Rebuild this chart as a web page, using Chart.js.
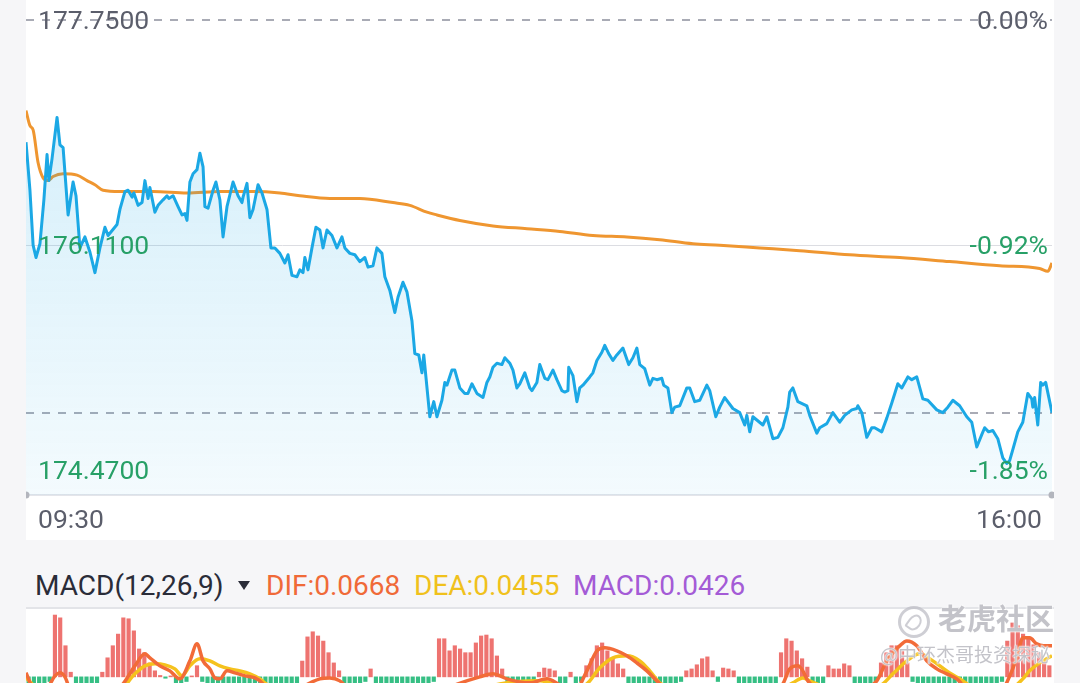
<!DOCTYPE html>
<html lang="zh-CN">
<head>
<meta charset="UTF-8">
<title>分时 / MACD</title>
<script src="https://cdn.jsdelivr.net/npm/chart.js"></script>
<style>
  html, body { margin: 0; padding: 0; width: 1080px; height: 683px; overflow: hidden; background: #f6f6f8; font-family: Roboto, "Noto Sans", sans-serif; }
  #price { position: absolute; left: 26px; top: 0; background: #fff; }
  #macd { position: absolute; left: 26px; top: 609px; background: #fff; }
  #sep { position: absolute; left: 26px; top: 607px; width: 1028px; height: 2px; background: #e3e4e8; }
  .head { position: absolute; top: 568px; height: 36px; line-height: 36px; font-size: 28px; white-space: nowrap; }
  #tri { position: absolute; left: 238px; top: 581px; width: 0; height: 0; border-left: 6px solid transparent; border-right: 6px solid transparent; border-top: 9px solid #2a2c38; }
  .wm { position: absolute; white-space: nowrap; font-family: "Noto Sans CJK SC", sans-serif; color: rgba(180,180,188,0.8);
        text-shadow: 0 0 2px #fff, 0 0 2px #fff, 0 0 1px #fff; }
  #logo { position: absolute; left: 898px; top: 606px; width: 26px; height: 26px; border: 3px solid rgba(190,190,198,0.75); border-radius: 50%; }
  #logo div { position: absolute; left: 7px; top: 5px; width: 9px; height: 13px; border: 2px solid rgba(190,190,198,0.75); border-radius: 50% 50% 50% 10%; transform: rotate(35deg); }
</style>
</head>
<body>
<canvas id="price" width="1028" height="540"></canvas>
<div class="head" id="hTitle" style="left:35px;color:#2a2c38"></div>
<div id="tri"></div>
<div class="head" id="hDif" style="left:266px;color:#f06a38"></div>
<div class="head" id="hDea" style="left:414px;color:#f0c11c"></div>
<div class="head" id="hMacd" style="left:573px;color:#a45bd6"></div>
<div id="sep"></div>
<canvas id="macd" width="1028" height="132"></canvas>
<div id="logo"><div></div></div>
<div class="wm" style="left:938px;top:596px;font-size:29px;font-weight:bold">老虎社区</div>
<div class="wm" style="left:880px;top:640px;font-size:19px">@中环杰哥投资探秘</div>
<script>
// minutes after 09:30, last price
const priceMin = [0,1.5,2.7,3.8,5.3,6.8,8.0,8.7,9.9,11.8,12.9,14.1,16.0,17.9,19.0,20.5,22.4,24.3,26.2,28.1,
  30.0,31.2,34.6,35.7,37.6,38.8,40.3,41.0,42.6,44.1,45.2,46.4,47.1,49.0,50.2,52.1,53.6,54.3,55.9,57.8,
  59.3,60.4,61.2,62.3,63.5,65.0,66.1,67.3,68.0,69.2,71.1,72.2,73.7,74.9,76.4,78.7,80.6,82.1,82.5,84.0,
  85.1,86.3,88.2,89.7,91.6,93.1,94.6,96.5,98.4,99.6,101.1,103.0,104.1,105.3,106.0,107.2,108.7,110.2,111.7,112.9,
  114.4,116.3,118.2,120.1,121.2,123.1,125.0,126.9,128.8,130.0,131.9,133.4,135.3,136.4,138.3,140.2,141.4,143.3,144.8,146.7,
  147.8,149.3,150.5,151.2,153.5,155.0,156.2,158.1,159.2,160.0,161.9,163.0,164.9,166.8,168.0,169.5,171.4,173.7,175.2,176.3,
  177.5,179.0,180.9,182.0,183.9,185.1,186.6,187.7,189.6,191.5,192.3,194.2,195.3,197.2,198.4,200.3,201.8,203.7,204.8,206.0,
  206.3,207.9,209.4,210.5,211.7,214.3,215.5,217.0,218.9,220.0,221.5,223.1,224.6,226.9,229.1,230.7,232.2,233.3,235.2,237.1,
  238.3,239.8,241.7,242.4,244.0,245.5,246.6,248.5,251.2,252.3,254.2,256.1,258.8,259.9,262.2,263.7,265.6,268.7,271.3,273.2,
  274.0,275.1,276.3,280.1,281.6,283.9,285.8,287.7,289.6,290.3,291.5,293.4,296.8,297.9,300.6,301.7,304.4,306.7,309.3,311.2,
  313.9,315.8,316.2,317.7,319.6,321.5,322.6,325.3,327.2,329.1,331.4,332.9,335.2,336.7,338.6,340.9,342.8,346.2,348.5,350.4,
  352.3,354.9,357.6,359.5,361.4,363.3,364.4,365.9,367.5,369.4,371.3,372.8,373.9,375.1,377.0,378.9,380.8,382.3,382.7,383.4,
  384.6,385.7,386.5,387.6,390];
const priceVal = [176.86,176.51,176.11,176.02,176.12,176.44,176.77,176.58,176.74,177.04,176.84,176.82,176.33,176.57,176.47,176.09,176.17,176.06,175.91,176.09,
  176.24,176.18,176.26,176.37,176.50,176.51,176.46,176.49,176.40,176.42,176.58,176.45,176.53,176.35,176.40,176.44,176.47,176.45,176.47,176.39,
  176.33,176.34,176.29,176.57,176.63,176.66,176.78,176.68,176.39,176.38,176.51,176.57,176.44,176.17,176.39,176.57,176.47,176.42,176.46,176.56,
  176.31,176.37,176.55,176.49,176.37,176.09,176.09,176.05,175.98,176.04,175.89,175.88,175.93,175.91,176.02,175.93,176.09,176.24,176.22,176.09,
  176.22,176.18,176.09,176.17,176.09,176.05,176.04,175.99,176.02,175.95,175.96,176.09,176.05,175.88,175.78,175.62,175.73,175.84,175.77,175.56,
  175.32,175.31,175.18,175.31,174.86,174.97,174.86,174.98,175.11,175.09,175.20,175.20,175.07,175.03,175.03,175.10,175.03,175.00,175.11,175.15,
  175.22,175.25,175.24,175.29,175.25,175.20,175.07,175.10,175.18,175.07,175.05,175.11,175.24,175.14,175.13,175.20,175.13,175.05,175.04,175.05,
  175.22,175.16,174.97,175.07,175.09,175.15,175.18,175.27,175.33,175.38,175.32,175.27,175.31,175.36,175.24,175.29,175.36,175.24,175.21,175.09,
  175.14,175.13,175.14,175.09,175.07,174.89,174.93,174.94,175.07,175.07,174.97,174.98,175.09,175.05,174.86,174.93,175.00,174.92,174.89,174.80,
  174.87,174.75,174.86,174.80,174.86,174.70,174.71,174.78,174.93,175.04,175.07,174.97,174.94,174.87,174.74,174.78,174.81,174.89,174.82,174.87,
  174.91,174.92,174.94,174.89,174.71,174.78,174.78,174.75,174.85,174.96,175.10,175.07,175.15,175.13,175.15,174.99,174.98,174.91,174.89,174.93,
  174.98,174.94,174.86,174.82,174.64,174.73,174.78,174.75,174.76,174.70,174.56,174.52,174.54,174.62,174.75,174.82,175.03,174.99,174.93,175.00,
  174.80,175.11,175.09,175.11,174.89];

// average price line
const avgMin = [0,1.5,2.7,4.6,6.5,8.4,10.3,14.1,19.4,23.2,26.2,29.3,35.7,48.3,61.2,73.7,86.3,96.5,104.1,115.5,
  126.9,139.5,145.9,152.4,156.2,164.9,177.5,190.4,202.9,215.5,228.4,240.9,253.5,263.7,278.9,294.1,313.1,332.1,351.1,370.1,
  385.3,388.4,390];
const avgVal = [177.09,176.98,176.95,176.71,176.60,176.58,176.61,176.63,176.62,176.58,176.55,176.51,176.50,176.50,176.49,176.50,176.50,176.49,176.47,176.45,
  176.45,176.42,176.40,176.35,176.33,176.29,176.25,176.23,176.21,176.18,176.17,176.15,176.12,176.11,176.09,176.07,176.04,176.02,175.99,175.96,
  175.94,175.92,175.98];

const priceTicks = [177.75, 176.11, 174.47];
const priceTickText = ['177.7500', '176.1100', '174.4700'];
const pctTickText = ['0.00%', '-0.92%', '-1.85%'];
const lastPrice = 174.89;
const timeLabels = ['09:30', '16:00'];

// MACD histogram, one bar per 2 minutes
const histVal = [-0.03,-0.03,-0.02,-0.02,-0.01,0.133,0.127,0.067,0.01,-0.02,
  -0.03,-0.03,-0.03,-0.02,0.01,0.041,0.067,0.092,0.127,0.125,
  0.099,0.060,0.052,0.030,0.013,0.003,-0.003,0.002,-0.02,-0.02,
  -0.01,0.002,0.024,-0.01,-0.02,-0.02,-0.03,-0.03,-0.02,-0.03,
  -0.03,-0.03,-0.03,-0.02,-0.03,-0.04,-0.04,-0.04,-0.04,-0.04,
  -0.03,-0.02,0.034,0.086,0.097,0.088,0.077,0.052,0.030,0.013,
  -0.02,-0.03,-0.03,-0.02,-0.01,0.017,-0.02,-0.03,-0.04,-0.04,
  -0.04,-0.04,-0.04,-0.04,-0.03,-0.03,-0.03,-0.01,0.082,0.082,
  0.056,0.067,0.060,0.052,0.052,0.073,0.088,0.090,0.082,0.045,
  0.017,-0.01,-0.02,-0.02,-0.02,-0.02,-0.01,0.01,0.019,0.017,
  0.013,-0.02,-0.02,0.01,-0.02,-0.01,0.024,0.039,0.067,0.073,
  0.056,0.039,0.028,0.017,-0.02,-0.03,-0.04,-0.04,-0.04,-0.04,
  -0.04,-0.03,-0.03,-0.02,-0.01,0.013,0.017,0.026,0.039,0.043,
  0.013,-0.01,0.019,0.017,0.013,-0.02,-0.03,-0.03,-0.04,-0.04,
  -0.03,-0.03,-0.02,0.052,0.082,0.077,0.056,0.039,0.021,-0.02,
  -0.03,-0.02,0.024,0.017,0.017,0.028,0.024,-0.02,-0.02,-0.03,
  -0.02,-0.01,0.030,0.052,0.067,0.067,0.056,0.030,-0.01,-0.02,
  -0.03,-0.03,-0.04,-0.04,-0.04,-0.04,-0.04,-0.04,-0.04,-0.04,
  -0.03,-0.03,-0.03,-0.02,-0.02,-0.01,0.077,0.116,0.110,0.092,
  0.082,0.069,0.052,0.034,0.024];

const difMin = [0,3.4,7.2,11.0,12.9,14.8,18.6,26.2,33.8,36.9,41.4,45.2,47.1,50.9,54.7,58.5,62.3,65.0,67.3,69.9,
  71.8,73.7,76.4,79.4,83.2,87.0,89.7,94.6,102.2,111.7,115.5,119.3,126.9,142.1,157.3,172.5,177.5,180.1,182.8,191.5,
  198.0,202.9,208.6,213.2,217.0,220.0,224.6,228.4,232.2,236.0,239.8,248.5,256.1,263.7,278.9,287.7,290.3,293.4,295.3,297.2,
  305.5,316.9,323.4,327.2,332.1,334.8,338.6,342.4,346.2,350.0,353.8,362.5,370.1,372.8,376.6,378.9,381.5,384.2,386.8,390];
const difVal = [0.0086,-0.0301,-0.0301,0.0022,0.0086,0,-0.0516,-0.0516,-0.0301,-0.0151,0.0237,0.0495,0.0409,0.0237,0.0129,-0.0043,0.0344,0.0710,0.0344,0.0172,
  -0.0022,-0.0043,0.0129,0.0086,0.0022,-0.0022,-0.0129,-0.0516,-0.0301,-0.0043,-0.0022,-0.0086,-0.0516,-0.0731,-0.0301,0,0.0065,0.0022,-0.0043,-0.0129,
  -0.0043,-0.0172,-0.0301,0.0129,0.0559,0.0624,0.0559,0.0452,0.0301,0.0129,-0.0086,-0.0516,-0.0301,-0.0409,-0.0516,-0.0151,0.0172,0.0237,0.0129,-0.0086,
  -0.0409,-0.0301,-0.0086,0.0344,0.0667,0.0774,0.0667,0.0344,0.0172,0.0065,-0.0043,-0.0516,-0.0409,-0.0129,0.0409,0.0839,0.0839,0.0710,0.0667,0.0668];
const deaMin = [0,5.3,20.5,35.7,41.4,45.2,49.0,52.8,56.6,59.3,62.3,66.1,69.9,73.7,77.5,81.3,85.1,88.9,90.8,100.3,
  115.5,134.5,157.3,180.1,195.3,206.7,213.2,218.1,223.1,228.4,233.3,237.1,240.9,256.1,278.9,291.5,295.3,297.9,309.3,324.5,
  329.5,334.8,339.7,344.7,350.0,354.9,366.3,373.9,378.9,381.5,385.3,390];
const deaVal = [-0.0022,-0.0301,-0.0516,-0.0301,0.0065,0.0237,0.0280,0.0258,0.0172,0.0022,0.0237,0.0387,0.0344,0.0237,0.0172,0.0129,0.0065,-0.0043,-0.0129,-0.0409,
  -0.0301,-0.0624,-0.0516,-0.0151,-0.0086,-0.0258,-0.0151,0.0194,0.0409,0.0452,0.0344,0.0129,-0.0129,-0.0409,-0.0516,-0.0129,-0.0022,-0.0086,-0.0301,-0.0194,
  0.0065,0.0344,0.0495,0.0344,0.0129,-0.0043,-0.0409,-0.0301,-0.0043,0.0129,0.0301,0.0455];

const macdTitle = 'MACD(12,26,9)';
const difLast = '0.0668', deaLast = '0.0455', macdLast = '0.0426';

document.getElementById('hTitle').textContent = macdTitle;
document.getElementById('hDif').textContent = 'DIF:' + difLast;
document.getElementById('hDea').textContent = 'DEA:' + deaLast;
document.getElementById('hMacd').textContent = 'MACD:' + macdLast;

const GREEN = '#27a067';
const GREY = '#5b5e6b';

// guide lines, axis labels
const priceGuides = {
  id: 'priceGuides',
  beforeDatasetsDraw(chart) {
    const { ctx, chartArea: a, scales: { y } } = chart;
    ctx.save();
    let py = Math.round(y.getPixelForValue(priceTicks[1])) + 0.5;
    ctx.strokeStyle = '#dcdde2';
    ctx.lineWidth = 1;
    ctx.beginPath(); ctx.moveTo(a.left, py); ctx.lineTo(a.right, py); ctx.stroke();

    ctx.setLineDash([8, 8]);
    ctx.strokeStyle = '#a9abb5';
    ctx.lineWidth = 2;
    [priceTicks[0], lastPrice].forEach(v => {
      const p = Math.round(y.getPixelForValue(v));
      ctx.beginPath(); ctx.moveTo(a.left, p); ctx.lineTo(a.right, p); ctx.stroke();
    });
    ctx.setLineDash([]);

    ctx.strokeStyle = '#e4e5ea';
    ctx.lineWidth = 2;
    ctx.beginPath(); ctx.moveTo(a.left, a.bottom); ctx.lineTo(a.right, a.bottom); ctx.stroke();
    ctx.restore();
  },
  afterDatasetsDraw(chart) {
    const { ctx, chartArea: a, scales: { x, y } } = chart;
    ctx.save();
    ctx.fillStyle = '#b3b5bd';
    [a.left, a.right].forEach(px => {
      ctx.beginPath(); ctx.arc(px, a.bottom, 3.5, 0, Math.PI * 2); ctx.fill();
    });
    ctx.font = '26.5px Roboto';
    ctx.textBaseline = 'middle';
    priceTicks.forEach((v, i) => {
      const p = y.getPixelForValue(v) + 2;
      ctx.fillStyle = i === 0 ? GREY : GREEN;
      ctx.textAlign = 'left';
      ctx.fillText(priceTickText[i], a.left + 12, p);
      ctx.textAlign = 'right';
      ctx.fillText(pctTickText[i], a.right - 4, p);
    });
    ctx.fillStyle = GREY;
    ctx.textAlign = 'left';
    ctx.fillText(timeLabels[0], x.getPixelForValue(0) + 12, a.bottom + 26);
    ctx.textAlign = 'right';
    ctx.fillText(timeLabels[1], x.getPixelForValue(390) - 10, a.bottom + 26);
    ctx.restore();
  }
};

function areaFill(context) {
  const { ctx, chartArea } = context.chart;
  if (!chartArea) return 'rgba(27,168,229,0.12)';
  const g = ctx.createLinearGradient(0, chartArea.top, 0, chartArea.bottom);
  g.addColorStop(0, 'rgba(27,168,229,0.21)');
  g.addColorStop(1, 'rgba(27,168,229,0.05)');
  return g;
}

new Chart(document.getElementById('price'), {
  type: 'line',
  data: {
    datasets: [
      {
        data: priceMin.map((m, i) => ({ x: m, y: priceVal[i] })),
        borderColor: '#1ba8e5', borderWidth: 3, borderJoinStyle: 'round',
        fill: 'start', backgroundColor: areaFill,
        pointRadius: 0, tension: 0
      },
      {
        data: avgMin.map((m, i) => ({ x: m, y: avgVal[i] })),
        borderColor: '#ef9630', borderWidth: 3,
        fill: false, pointRadius: 0, cubicInterpolationMode: 'monotone'
      }
    ]
  },
  options: {
    responsive: false, animation: false, devicePixelRatio: 1, events: [],
    layout: { padding: { top: 20, bottom: 45, left: 0, right: 2 } },
    plugins: { legend: { display: false }, tooltip: { enabled: false } },
    scales: {
      x: { type: 'linear', min: 0, max: 390, display: false },
      y: { min: 174.29, max: 177.75, display: false }
    }
  },
  plugins: [priceGuides]
});

new Chart(document.getElementById('macd'), {
  type: 'bar',
  data: {
    datasets: [
      {
        type: 'line', data: difMin.map((m, i) => ({ x: m, y: difVal[i] })),
        borderColor: '#f26b38', borderWidth: 3.5, pointRadius: 0, cubicInterpolationMode: 'monotone'
      },
      {
        type: 'line', data: deaMin.map((m, i) => ({ x: m, y: deaVal[i] })),
        borderColor: '#f5c21d', borderWidth: 3.5, pointRadius: 0, cubicInterpolationMode: 'monotone'
      },
      {
        type: 'bar', data: histVal.map((v, i) => ({ x: i * 2 + 1, y: v })),
        backgroundColor: c => (c.raw && c.raw.y >= 0) ? '#ee7370' : '#36bf84',
        barThickness: 3.5
      }
    ]
  },
  options: {
    responsive: false, animation: false, devicePixelRatio: 1, events: [],
    layout: { padding: { top: 0, bottom: 0, left: 0, right: 2 } },
    plugins: { legend: { display: false }, tooltip: { enabled: false } },
    scales: {
      x: { type: 'linear', min: 0, max: 390, display: false, offset: false },
      y: { min: -0.138, max: 0.146, display: false }
    }
  }
});
</script>
</body>
</html>
